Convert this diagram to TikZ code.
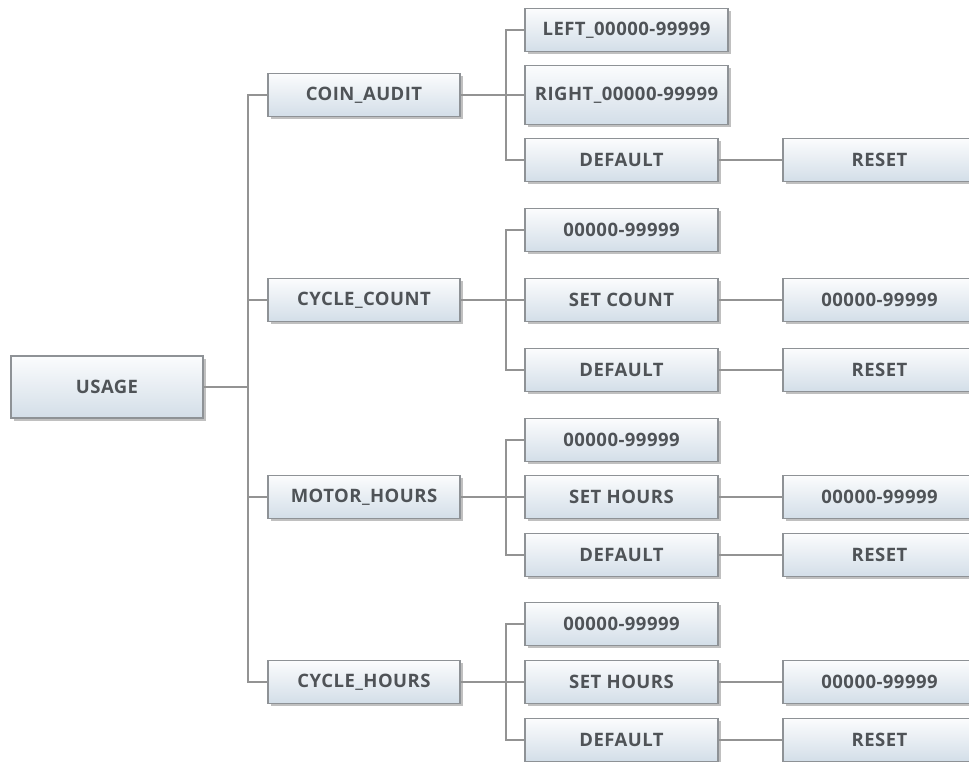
\documentclass[tikz,border=0pt]{standalone}
\usepackage{fontspec}
\setmainfont{Open Sans}[LetterSpace=2.5]
\usetikzlibrary{shadows}
\definecolor{boxtop}{HTML}{FBFCFD}
\definecolor{boxbot}{HTML}{D3DEE8}
\definecolor{boxline}{HTML}{8E9296}
\definecolor{txt}{HTML}{4F5357}
\definecolor{conn}{HTML}{939393}
\tikzset{
  menubox/.style={draw=boxline, line width=1.1pt, top color=boxtop, bottom color=boxbot,
    minimum width=192pt, minimum height=43pt, inner sep=0pt,
    font=\fontsize{18.5}{20}\selectfont\bfseries, text=txt,
    drop shadow={shadow xshift=2.5pt, shadow yshift=-2.5pt, fill=black!45, opacity=0.55}},
  wline/.style={draw=conn, line width=1.4pt}
}
\begin{document}
\begin{tikzpicture}[x=1pt,y=-1pt]
\useasboundingbox (0,0) rectangle (969,762);
% level 0
\node[menubox, minimum height=62pt] (usage) at (107,387) {USAGE};
% level 1
\node[menubox] (coin) at (364,95) {COIN\_AUDIT};
\node[menubox] (cc) at (364,300) {CYCLE\_COUNT};
\node[menubox] (mh) at (364,497) {MOTOR\_HOURS};
\node[menubox] (ch) at (364,682) {CYCLE\_HOURS};
% level 2 - coin audit
\node[menubox, minimum width=203pt] (ca1) at (626.5,30) {LEFT\_00000-99999};
\node[menubox, minimum width=203pt, minimum height=59pt] (ca2) at (626.5,95) {RIGHT\_00000-99999};
\node[menubox, minimum width=193pt] (ca3) at (621.5,160) {DEFAULT};
\node[menubox, minimum width=193pt] (ca4) at (879.5,160) {RESET};
% level 2 - cycle count
\node[menubox, minimum width=193pt] (cc1) at (621.5,230) {00000-99999};
\node[menubox, minimum width=193pt] (cc2) at (621.5,300) {SET COUNT};
\node[menubox, minimum width=193pt] (cc3) at (621.5,370) {DEFAULT};
\node[menubox, minimum width=193pt] (cc2b) at (879.5,300) {00000-99999};
\node[menubox, minimum width=193pt] (cc3b) at (879.5,370) {RESET};
% level 2 - motor hours
\node[menubox, minimum width=193pt] (mh1) at (621.5,440) {00000-99999};
\node[menubox, minimum width=193pt] (mh2) at (621.5,497) {SET HOURS};
\node[menubox, minimum width=193pt] (mh3) at (621.5,555) {DEFAULT};
\node[menubox, minimum width=193pt] (mh2b) at (879.5,497) {00000-99999};
\node[menubox, minimum width=193pt] (mh3b) at (879.5,555) {RESET};
% level 2 - cycle hours
\node[menubox, minimum width=193pt] (ch1) at (621.5,624) {00000-99999};
\node[menubox, minimum width=193pt] (ch2) at (621.5,682) {SET HOURS};
\node[menubox, minimum width=193pt] (ch3) at (621.5,740) {DEFAULT};
\node[menubox, minimum width=193pt] (ch2b) at (879.5,682) {00000-99999};
\node[menubox, minimum width=193pt] (ch3b) at (879.5,740) {RESET};
% connectors
\coordinate (t) at (248,387);
\coordinate (s1) at (506,95);
\coordinate (s2) at (506,300);
\coordinate (s3) at (506,497);
\coordinate (s4) at (506,682);
\draw[wline] (usage.east) -- (t);
\draw[wline] (coin.west) -| (t) |- (ch.west);
\draw[wline] (cc.west) -- (cc.west -| t);
\draw[wline] (mh.west) -- (mh.west -| t);
\draw[wline] (ca1.west) -| (s1) |- (ca3.west);
\draw[wline] (coin.east) -- (ca2.west);
\draw[wline] (ca3.east) -- (ca4.west);
\draw[wline] (cc1.west) -| (s2) |- (cc3.west);
\draw[wline] (cc.east) -- (cc2.west);
\draw[wline] (cc2.east) -- (cc2b.west);
\draw[wline] (cc3.east) -- (cc3b.west);
\draw[wline] (mh1.west) -| (s3) |- (mh3.west);
\draw[wline] (mh.east) -- (mh2.west);
\draw[wline] (mh2.east) -- (mh2b.west);
\draw[wline] (mh3.east) -- (mh3b.west);
\draw[wline] (ch1.west) -| (s4) |- (ch3.west);
\draw[wline] (ch.east) -- (ch2.west);
\draw[wline] (ch2.east) -- (ch2b.west);
\draw[wline] (ch3.east) -- (ch3b.west);
\end{tikzpicture}
\end{document}
